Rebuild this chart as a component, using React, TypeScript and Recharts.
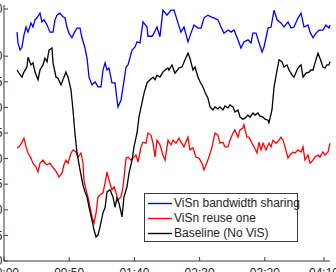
import { Legend, Line, LineChart, XAxis, YAxis } from "recharts";

// time axis (seconds) and its mm:ss labels
const timeTicks = [0, 50, 100, 150, 200, 250];
const timeLabels = ["00:00", "00:50", "01:40", "02:30", "03:20", "04:10"];
const valueTicks = [0, 5, 10, 15, 20, 25, 30, 35, 40, 45, 50];

// [time in s, value]
const bandwidthSharing: [number, number][] = [
  [10.0, 44.7], [10.7, 42.6], [12.3, 41.2], [13.8, 41.8], [15.3, 44.1], [16.9, 45.7],
  [18.4, 44.7], [20.7, 46.5], [22.2, 45.7], [23.8, 47.1], [25.3, 47.5], [27.6, 48.4],
  [29.1, 46.7], [30.7, 47.1], [33.0, 46.1], [35.3, 44.7], [37.6, 44.7], [39.1, 47.1],
  [40.6, 48.0], [42.9, 48.4], [45.2, 47.7], [46.8, 47.5], [48.3, 45.7], [49.8, 44.5],
  [52.1, 43.6], [53.7, 44.5], [56.0, 45.5], [58.3, 45.5], [59.8, 43.6], [62.1, 41.6],
  [63.7, 39.6], [65.2, 35.9], [67.5, 34.4], [69.8, 35.0], [72.1, 34.0], [74.4, 34.0],
  [75.9, 37.3], [77.5, 38.7], [79.0, 37.3], [80.5, 37.7], [82.8, 34.8], [85.1, 34.8],
  [86.7, 31.4], [87.4, 30.1], [89.7, 31.4], [91.3, 34.0], [93.6, 37.9], [95.1, 38.3],
  [98.2, 41.2], [100.5, 41.8], [102.0, 42.8], [104.3, 42.6], [106.6, 46.7], [109.7, 45.7],
  [110.4, 43.9], [113.5, 43.9], [115.0, 44.5], [117.3, 45.7], [119.6, 43.8], [121.9, 49.0],
  [125.0, 48.0], [128.1, 49.0], [130.4, 49.0], [133.4, 46.5], [135.7, 44.7], [138.0, 45.7],
  [141.1, 42.8], [143.4, 44.5], [145.7, 46.1], [148.8, 45.5], [151.1, 45.5], [153.4, 47.5],
  [156.4, 48.0], [158.7, 47.7], [161.0, 47.5], [164.1, 47.1], [166.4, 45.7], [168.7, 44.5],
  [171.8, 45.1], [174.1, 44.7], [176.4, 45.1], [179.4, 43.2], [181.7, 41.6], [184.0, 42.8],
  [187.1, 43.2], [189.4, 42.6], [190.9, 44.5], [193.3, 44.5], [195.6, 42.6], [197.9, 40.8],
  [199.4, 41.8], [202.5, 45.5], [204.8, 45.7], [207.1, 49.0], [209.4, 47.1], [212.4, 46.5],
  [214.7, 45.7], [217.8, 46.7], [220.1, 45.5], [222.4, 45.7], [225.5, 47.5], [227.8, 48.4],
  [230.1, 45.7], [233.1, 46.1], [234.7, 44.7], [237.0, 43.6], [239.3, 44.5], [241.6, 45.1],
  [244.6, 45.1], [246.9, 46.1], [249.2, 45.5], [250.0, 46.1],
];

const reuseOne: [number, number][] = [
  [10.0, 22.1], [11.5, 22.3], [13.8, 23.2], [15.3, 24.0], [16.9, 22.3], [18.4, 21.1],
  [20.7, 20.1], [22.2, 19.1], [24.5, 18.4], [26.1, 17.4], [27.6, 19.1], [29.9, 19.7],
  [31.4, 19.1], [33.0, 18.8], [35.3, 19.1], [37.6, 18.2], [39.1, 17.8], [40.6, 17.2],
  [42.2, 16.4], [44.5, 17.2], [46.0, 18.8], [47.5, 19.7], [49.1, 19.1], [51.4, 21.1],
  [52.9, 21.7], [55.2, 21.3], [56.7, 20.3], [59.0, 21.1], [60.6, 19.1], [61.3, 15.8],
  [62.9, 13.9], [64.4, 12.5], [66.0, 10.5], [67.5, 8.6], [69.0, 7.4], [70.6, 9.4],
  [72.1, 12.5], [73.6, 12.9], [75.9, 13.3], [77.5, 15.2], [79.0, 17.4], [80.5, 15.8],
  [82.8, 13.9], [84.4, 14.5], [85.9, 13.3], [87.4, 11.9], [89.7, 12.5], [91.3, 14.5],
  [93.6, 20.1], [95.1, 20.3], [97.4, 19.7], [98.9, 20.1], [101.2, 20.7], [102.8, 19.3],
  [105.1, 22.3], [106.6, 23.2], [108.9, 23.0], [110.4, 25.0], [112.7, 24.6], [114.3, 23.0],
  [115.8, 20.3], [117.3, 23.6], [119.6, 22.7], [121.9, 20.7], [123.5, 19.7], [125.8, 23.6],
  [126.5, 23.2], [128.1, 22.7], [129.6, 23.6], [131.9, 23.0], [134.2, 24.0], [135.7, 23.2],
  [138.0, 22.3], [141.1, 24.2], [142.6, 21.7], [144.9, 22.1], [147.2, 20.3], [149.5, 20.1],
  [151.8, 19.1], [153.4, 17.8], [155.7, 19.3], [157.2, 20.3], [159.5, 22.3], [161.8, 25.0],
  [164.1, 24.6], [165.6, 23.0], [167.9, 23.2], [169.5, 22.3], [171.8, 22.3], [173.3, 23.6],
  [175.6, 25.0], [177.1, 25.6], [179.4, 24.2], [181.0, 25.6], [183.3, 26.0], [184.0, 26.6],
  [186.3, 24.2], [187.9, 24.2], [190.2, 23.0], [191.7, 22.3], [194.0, 21.1], [195.6, 23.2],
  [197.1, 21.7], [198.6, 23.0], [200.9, 21.7], [203.2, 23.0], [204.8, 22.3], [206.3, 23.6],
  [208.6, 23.0], [210.9, 23.6], [212.4, 24.2], [214.0, 23.6], [215.5, 22.3], [217.8, 20.1],
  [219.3, 20.7], [221.6, 21.3], [223.2, 21.1], [225.5, 21.7], [227.8, 21.3], [229.3, 22.3],
  [230.8, 19.7], [233.1, 20.7], [234.7, 19.1], [237.0, 19.7], [238.5, 20.3], [240.8, 20.7],
  [242.3, 20.3], [244.6, 21.3], [246.2, 20.7], [248.5, 21.3], [250.0, 23.0],
];

const baseline: [number, number][] = [
  [10.0, 37.3], [11.5, 36.7], [13.8, 35.9], [15.3, 36.9], [17.6, 37.9], [18.4, 39.8],
  [20.7, 38.3], [22.2, 38.7], [23.8, 36.9], [26.1, 35.4], [27.6, 37.3], [29.9, 38.3],
  [31.4, 39.6], [33.0, 38.9], [34.5, 41.2], [36.8, 41.6], [37.6, 38.7], [39.9, 35.9],
  [41.4, 35.7], [43.7, 34.4], [45.2, 35.4], [47.5, 36.9], [49.1, 35.9], [51.4, 33.4],
  [52.9, 29.5], [54.4, 25.0], [56.0, 21.1], [58.3, 17.8], [60.6, 14.8], [62.1, 13.5],
  [63.7, 12.5], [65.2, 10.5], [67.5, 8.0], [69.0, 6.1], [70.6, 4.7], [72.1, 5.1],
  [73.6, 6.6], [75.9, 9.4], [77.5, 10.4], [79.0, 13.5], [81.3, 13.9], [83.6, 12.5],
  [85.1, 10.5], [86.7, 12.3], [88.2, 11.3], [90.5, 8.6], [92.0, 12.5], [94.3, 14.5],
  [95.9, 17.2], [98.2, 19.7], [99.7, 22.3], [102.0, 25.0], [103.5, 28.1], [105.8, 30.9],
  [107.4, 32.8], [109.7, 34.8], [112.0, 35.4], [114.3, 35.9], [115.8, 35.4], [117.3, 36.3],
  [119.6, 35.9], [121.9, 36.9], [123.5, 37.3], [125.8, 37.7], [126.5, 37.3], [128.8, 38.3],
  [131.1, 36.7], [134.2, 37.7], [136.5, 37.9], [138.8, 39.3], [141.1, 40.6], [142.6, 39.6],
  [144.9, 37.3], [146.5, 37.9], [148.8, 35.9], [150.3, 35.0], [152.6, 34.0], [154.1, 33.0],
  [156.4, 31.8], [158.0, 30.1], [160.3, 29.5], [161.8, 30.1], [164.1, 29.7], [165.6, 30.1],
  [167.9, 29.5], [169.5, 30.3], [171.8, 29.9], [173.3, 30.5], [175.6, 30.1], [177.1, 29.1],
  [179.4, 29.5], [181.0, 28.1], [183.3, 27.7], [184.8, 27.9], [187.1, 28.5], [188.7, 28.1],
  [190.9, 28.9], [192.5, 28.5], [194.8, 28.9], [196.3, 28.3], [198.6, 28.1], [200.2, 27.7],
  [202.5, 27.5], [203.2, 27.0], [205.5, 29.5], [207.1, 34.0], [209.4, 37.3], [210.9, 39.3],
  [213.2, 38.9], [214.7, 37.9], [217.0, 38.3], [218.6, 37.3], [220.9, 36.3], [222.4, 35.9],
  [224.7, 37.3], [226.2, 37.9], [227.8, 38.3], [229.3, 35.9], [231.6, 36.7], [233.9, 36.9],
  [235.4, 37.3], [237.0, 37.3], [238.5, 38.7], [240.8, 40.6], [242.3, 39.6], [244.6, 37.9],
  [246.2, 37.7], [247.7, 38.3], [249.2, 38.3], [250.0, 38.9],
];

const series = [
  { name: "ViSn bandwidth sharing", color: "#0000ff", points: bandwidthSharing },
  { name: "ViSn reuse one", color: "#ff0000", points: reuseOne },
  { name: "Baseline (No ViS)", color: "#000000", points: baseline },
];

const FONT = "'Liberation Sans', Arial, Helvetica, sans-serif";
const AXIS = "#3c3c3c";
const TEXT = "#1e1e1e";

// MATLAB style: ticks point into the plot area
function TimeTick({ x, y, payload }: any) {
  const label = timeLabels[timeTicks.indexOf(payload.value)];
  return (
    <g>
      <line x1={x} y1={y} x2={x} y2={y - 4} stroke={AXIS} strokeWidth={1} />
      <text x={x} y={y + 7} dy="0.71em" textAnchor="middle" fontFamily={FONT} fontSize={12} fill={TEXT}>
        {label}
      </text>
    </g>
  );
}

function ValueTick({ x, y, payload }: any) {
  return (
    <g>
      <line x1={x} y1={y} x2={x + 4} y2={y} stroke={AXIS} strokeWidth={1} />
      <text x={x - 1.5} y={y} dy="0.35em" textAnchor="end" fontFamily={FONT} fontSize={12} fill={TEXT}>
        {payload.value}
      </text>
    </g>
  );
}

function LegendBox() {
  return (
    <div
      style={{
        position: "relative",
        width: 154,
        height: 49,
        boxSizing: "border-box",
        border: `1px solid ${AXIS}`,
        background: "#fff",
        fontFamily: FONT,
        fontSize: 12,
        color: TEXT,
      }}
    >
      {series.map((s, i) => (
        <div
          key={s.name}
          style={{ position: "absolute", left: 3, top: 2 + i * 15, height: 15, display: "flex", alignItems: "center", whiteSpace: "nowrap" }}
        >
          <svg width={24} height={15} style={{ marginRight: 2, display: "block" }}>
            <line x1={0} y1={7.5} x2={24} y2={7.5} stroke={s.color} strokeWidth={1.4} />
          </svg>
          <span style={{ lineHeight: "15px" }}>{s.name}</span>
        </div>
      ))}
    </div>
  );
}

export default function App() {
  return (
    <div style={{ position: "fixed", left: 0, top: 0, width: 336, height: 272, overflow: "hidden", background: "#fff" }}>
      <div style={{ position: "absolute", left: -36, top: 0 }}>
        <LineChart width={372} height={291} margin={{ top: 5, right: 6, bottom: 0, left: 0 }}>
          <XAxis
            dataKey="t"
            type="number"
            domain={[0, 250]}
            ticks={timeTicks}
            height={30}
            stroke={AXIS}
            tickLine={false}
            tickSize={0}
            tickMargin={0}
            tick={(p: any) => <TimeTick {...p} />}
            allowDuplicatedCategory={false}
          />
          <YAxis
            type="number"
            domain={[0, 50]}
            ticks={valueTicks}
            width={40}
            stroke={AXIS}
            tickLine={false}
            tickSize={0}
            tickMargin={0}
            tick={(p: any) => <ValueTick {...p} />}
          />
          <Legend
            layout="vertical"
            align="center"
            verticalAlign="middle"
            wrapperStyle={{ left: 180, top: 193, width: 154, height: 49 }}
            content={() => <LegendBox />}
          />
          {series.map((s) => (
            <Line
              key={s.name}
              name={s.name}
              data={s.points.map(([t, v]) => ({ t, v }))}
              dataKey="v"
              type="linear"
              stroke={s.color}
              strokeWidth={1.3}
              dot={false}
              activeDot={false}
              isAnimationActive={false}
            />
          ))}
        </LineChart>
      </div>
    </div>
  );
}
